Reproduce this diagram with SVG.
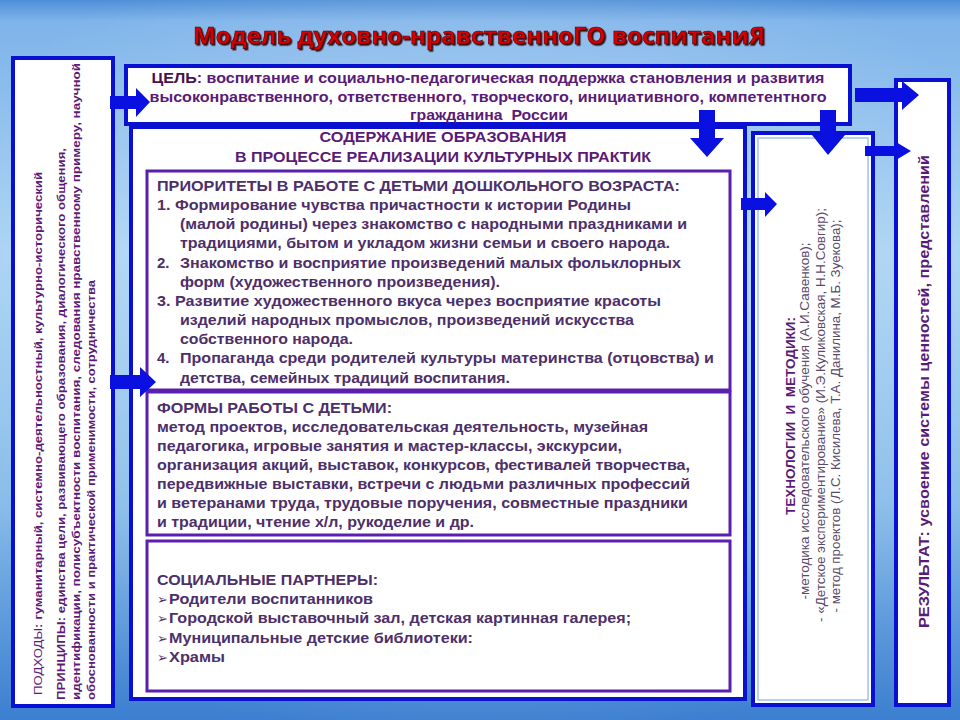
<svg xmlns="http://www.w3.org/2000/svg" width="960" height="720" viewBox="0 0 960 720">
<defs>
<linearGradient id="sky" x1="0" y1="0" x2="0" y2="1">
<stop offset="0" stop-color="#4f8fd8"/>
<stop offset="0.03" stop-color="#7fb4ea"/>
<stop offset="0.35" stop-color="#a9d2f3"/>
<stop offset="0.7" stop-color="#86bbe9"/>
<stop offset="1" stop-color="#3c7fd0"/>
</linearGradient>
<radialGradient id="glow" cx="0.5" cy="0.45" r="0.6">
<stop offset="0" stop-color="#ffffff" stop-opacity="0.35"/>
<stop offset="1" stop-color="#ffffff" stop-opacity="0"/>
</radialGradient>
<filter id="shadow" x="-5%" y="-30%" width="110%" height="160%">
<feDropShadow dx="1.5" dy="1.5" stdDeviation="0.6" flood-color="#2a0000" flood-opacity="0.9"/>
</filter>
<style>
.box{fill:#ffffff;stroke:#0a10d0;stroke-width:4}
.inner{fill:#ffffff;stroke:#5a1fb0;stroke-width:3}
.arrow{fill:#0a10e0}
.t{font-family:"Liberation Sans",Arial,sans-serif;font-weight:bold;fill:#4d2f6a}
.h{font-family:"Liberation Sans",Arial,sans-serif;font-weight:bold;fill:#5a1a78}
.v{font-family:"Liberation Sans",Arial,sans-serif;font-weight:bold;font-size:11.5px;fill:#5e1a78}
.tech{font-family:"Liberation Sans",Arial,sans-serif;font-size:12px;fill:#5a4a6a}
.pre{white-space:pre}
.bul{font-family:"DejaVu Sans",sans-serif;font-weight:normal;font-size:13px}
</style>
</defs>
<rect x="0" y="0" width="960" height="720" fill="url(#sky)"/>
<rect x="0" y="0" width="960" height="720" fill="url(#glow)"/>

<g id="title">
<text x="479" y="44" text-anchor="middle" textLength="572" lengthAdjust="spacingAndGlyphs" font-family="'Open Sans','DejaVu Sans',sans-serif" font-weight="bold" font-size="23" fill="#d40000" stroke="#5a0000" stroke-width="0.6" filter="url(#shadow)">Модель духовно-нравственноГО воспитаниЯ</text>
</g>

<g id="approaches">
<rect class="box" x="13" y="58" width="100" height="648"/>
<text class="v" transform="translate(42,695) rotate(-90)" textLength="523" lengthAdjust="spacingAndGlyphs"><tspan font-weight="normal">ПОДХОДЫ</tspan>: гуманитарный, системно-деятельностный, культурно-исторический</text>
<text class="v" transform="translate(65,700) rotate(-90)" textLength="552" lengthAdjust="spacingAndGlyphs">ПРИНЦИПЫ: единства цели, развивающего образования, диалогического общения,</text>
<text class="v" transform="translate(80,700) rotate(-90)" textLength="637" lengthAdjust="spacingAndGlyphs">идентификации, полисубъектности воспитания, следования нравственному примеру, научной</text>
<text class="v" transform="translate(95,700) rotate(-90)" textLength="420" lengthAdjust="spacingAndGlyphs">обоснованности и практической применимости, сотрудничества</text>
</g>

<g id="goal">
<rect class="box" x="126" y="66" width="724" height="58"/>
<text class="h" font-size="15" x="488" y="83" text-anchor="middle" textLength="673" lengthAdjust="spacingAndGlyphs"><tspan fill="#4a1050">ЦЕЛЬ</tspan>: воспитание и социально-педагогическая поддержка становления и развития</text>
<text class="h" font-size="15" x="488" y="102" text-anchor="middle" textLength="677" lengthAdjust="spacingAndGlyphs">высоконравственного, ответственного, творческого, инициативного, компетентного</text>
<text class="h pre" font-size="15" x="489" y="120" text-anchor="middle" textLength="158" lengthAdjust="spacingAndGlyphs">гражданина  России</text>
</g>

<g id="content">
<rect class="box" x="131" y="127" width="614" height="572" fill="#fdfbff"/>
<text class="h" font-size="14" x="443" y="142" text-anchor="middle" textLength="247" lengthAdjust="spacingAndGlyphs">СОДЕРЖАНИЕ ОБРАЗОВАНИЯ</text>
<text class="h" font-size="14" x="443" y="162" text-anchor="middle" textLength="416" lengthAdjust="spacingAndGlyphs">В ПРОЦЕССЕ РЕАЛИЗАЦИИ КУЛЬТУРНЫХ ПРАКТИК</text>
</g>

<g id="priorities">
<rect class="inner" x="147" y="171" width="583" height="219"/>
<g class="t" font-size="15">
<text x="157" y="191" textLength="523" lengthAdjust="spacingAndGlyphs">ПРИОРИТЕТЫ В РАБОТЕ С ДЕТЬМИ ДОШКОЛЬНОГО ВОЗРАСТА:</text>
<text x="157" y="210" textLength="474" lengthAdjust="spacingAndGlyphs">1. Формирование чувства причастности к истории Родины</text>
<text x="180" y="229" textLength="507" lengthAdjust="spacingAndGlyphs">(малой родины) через знакомство с народными праздниками и</text>
<text x="180" y="248" textLength="490" lengthAdjust="spacingAndGlyphs">традициями, бытом и укладом жизни семьи и своего народа.</text>
<text y="268"><tspan x="157">2.</tspan><tspan x="180" textLength="501" lengthAdjust="spacingAndGlyphs">Знакомство и восприятие произведений малых фольклорных</tspan></text>
<text x="180" y="287" textLength="320" lengthAdjust="spacingAndGlyphs">форм (художественного произведения).</text>
<text x="157" y="306" textLength="504" lengthAdjust="spacingAndGlyphs">3. Развитие художественного вкуса через восприятие красоты</text>
<text x="180" y="325" textLength="454" lengthAdjust="spacingAndGlyphs">изделий народных промыслов, произведений искусства</text>
<text x="180" y="344" textLength="173" lengthAdjust="spacingAndGlyphs">собственного народа.</text>
<text y="363"><tspan x="157">4.</tspan><tspan x="180" textLength="534" lengthAdjust="spacingAndGlyphs">Пропаганда среди родителей культуры материнства (отцовства) и</tspan></text>
<text x="180" y="383" textLength="330" lengthAdjust="spacingAndGlyphs">детства, семейных традиций воспитания.</text>
</g>
</g>

<g id="forms">
<rect class="inner" x="147" y="392" width="583" height="143"/>
<g class="t" font-size="15">
<text x="157" y="413" textLength="235" lengthAdjust="spacingAndGlyphs">ФОРМЫ РАБОТЫ С ДЕТЬМИ:</text>
<text x="157" y="432" textLength="491" lengthAdjust="spacingAndGlyphs">метод проектов, исследовательская деятельность, музейная</text>
<text x="157" y="451" textLength="465" lengthAdjust="spacingAndGlyphs">педагогика, игровые занятия и мастер-классы, экскурсии,</text>
<text x="157" y="470" textLength="533" lengthAdjust="spacingAndGlyphs">организация акций, выставок, конкурсов, фестивалей творчества,</text>
<text x="157" y="489" textLength="533" lengthAdjust="spacingAndGlyphs">передвижные выставки, встречи с людьми различных профессий</text>
<text x="157" y="508" textLength="531" lengthAdjust="spacingAndGlyphs">и ветеранами труда, трудовые поручения, совместные праздники</text>
<text x="157" y="527" textLength="317" lengthAdjust="spacingAndGlyphs">и традиции, чтение х/л, рукоделие и др.</text>
</g>
</g>

<g id="partners">
<rect class="inner" x="147" y="541" width="583" height="150"/>
<g class="t" font-size="15">
<text x="157" y="585" textLength="221" lengthAdjust="spacingAndGlyphs">СОЦИАЛЬНЫЕ ПАРТНЕРЫ:</text>
<text y="604"><tspan class="bul" x="157">➢</tspan><tspan x="169" textLength="204" lengthAdjust="spacingAndGlyphs">Родители воспитанников</tspan></text>
<text y="623"><tspan class="bul" x="157">➢</tspan><tspan x="169" textLength="462" lengthAdjust="spacingAndGlyphs">Городской выставочный зал, детская картинная галерея;</tspan></text>
<text y="643"><tspan class="bul" x="157">➢</tspan><tspan x="169" textLength="304" lengthAdjust="spacingAndGlyphs">Муниципальные детские библиотеки:</tspan></text>
<text y="662"><tspan class="bul" x="157">➢</tspan><tspan x="169" textLength="56" lengthAdjust="spacingAndGlyphs">Храмы</tspan></text>
</g>
</g>

<g id="technologies">
<rect class="box" x="753" y="133" width="120" height="572"/>
<rect x="758" y="138" width="110" height="562" fill="none" stroke="#9cc4ee" stroke-width="1.5"/>
<text class="h pre" font-size="12" fill="#4a1050" transform="translate(795,416) rotate(-90)" text-anchor="middle" textLength="198" lengthAdjust="spacingAndGlyphs">ТЕХНОЛОГИИ  И  МЕТОДИКИ:</text>
<text class="tech" transform="translate(809,421) rotate(-90)" text-anchor="middle" textLength="357" lengthAdjust="spacingAndGlyphs">-методика исследовательского обучения (А.И.Савенков);</text>
<text class="tech" transform="translate(825,415) rotate(-90)" text-anchor="middle" textLength="414" lengthAdjust="spacingAndGlyphs">- «Детское экспериментирование» (И.Э.Куликовская, Н.Н.Совгир);</text>
<text class="tech" transform="translate(840,416) rotate(-90)" text-anchor="middle" textLength="393" lengthAdjust="spacingAndGlyphs">- метод проектов (Л.С. Кисилева, Т.А. Данилина, М.Б. Зуекова);</text>
</g>

<g id="result">
<rect class="box" x="896" y="80" width="53" height="625"/>
<text class="h" font-size="14" fill="#6a1a7a" transform="translate(929,628) rotate(-90)" textLength="473" lengthAdjust="spacingAndGlyphs">РЕЗУЛЬТАТ: усвоение системы ценностей, представлений</text>
</g>

<g id="connectors">
<polygon class="arrow" points="110,96 136,96 136,88 150,102 136,117 136,109 110,109"/>
<polygon class="arrow" points="110,375 140,375 140,367 156,382 140,397 140,389 110,389"/>
<polygon class="arrow" points="699,110 715,110 715,138 724,138 707,157 690,138 699,138"/>
<polygon class="arrow" points="820,110 836,110 836,135 845,135 828,155 812,135 820,135"/>
<polygon class="arrow" points="855,88 902,88 902,81 919,95 902,110 902,102 855,102"/>
<polygon class="arrow" points="865,146 896,146 896,142 911,151 896,160 896,156 865,156"/>
<polygon class="arrow" points="741,198 765,198 765,192 777,204 765,217 765,210 741,210"/>
</g>
</svg>
